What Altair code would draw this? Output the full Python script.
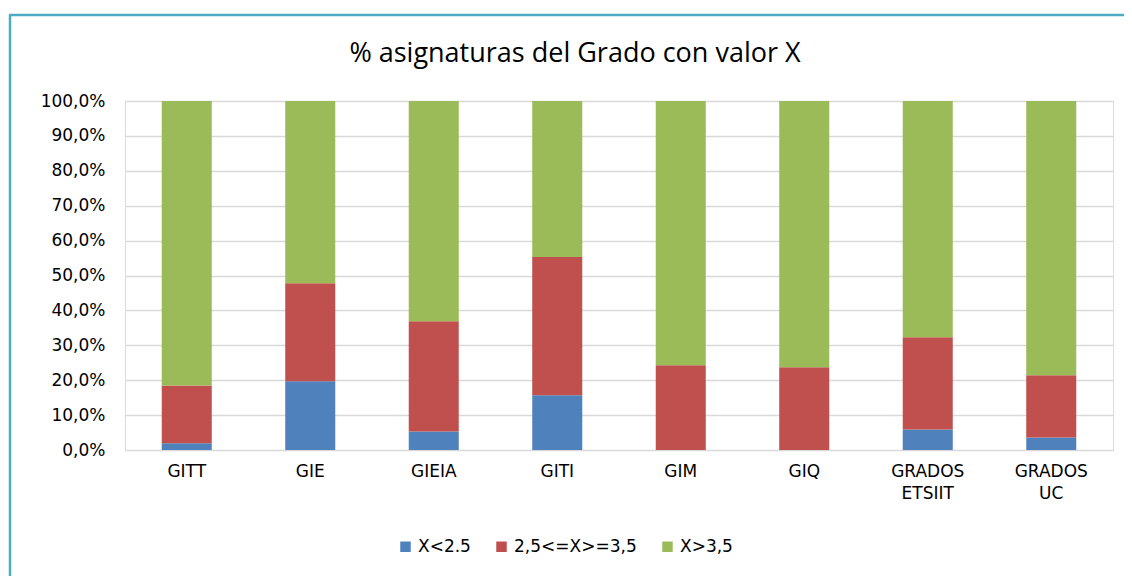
import altair as alt
import pandas as pd

grados = ["GITT", "GIE", "GIEIA", "GITI", "GIM", "GIQ", "GRADOS ETSIIT", "GRADOS UC"]
series = ["X<2.5", "2,5<=X>=3,5", "X>3,5"]
colores = ["#4F81BD", "#C0504D", "#9BBB59"]

bajo = [1.9, 19.7, 5.3, 15.7, 0.0, 0.0, 5.9, 3.6]
medio = [16.6, 28.1, 31.6, 39.6, 24.3, 23.7, 26.4, 17.8]
alto = [round(100 - b - m, 1) for b, m in zip(bajo, medio)]

rows = []
for i, g in enumerate(grados):
    for k, (s, vals) in enumerate(zip(series, [bajo, medio, alto])):
        rows.append({"grado": g, "serie": s, "valor": vals[i] / 100.0, "orden": k})
df = pd.DataFrame(rows)

FONT = "DejaVu Sans"
W, H = 988, 349
PL, PT = 117, 93
PR = 1116 - PL - W
PB = 568 - PT - H

bars = alt.Chart(df).mark_bar().encode(
    x=alt.X("grado:N", sort=grados, title=None,
            scale=alt.Scale(paddingInner=0.595, paddingOuter=0.2975),
            axis=alt.Axis(labelAngle=0, labelExpr="split(datum.label, ' ')",
                          labelLineHeight=22, labelPadding=13, labelFontSize=17,
                          labelFont=FONT, labelColor="#000000",
                          domain=False, ticks=False, grid=False)),
    y=alt.Y("valor:Q", stack="zero", title=None,
            scale=alt.Scale(domain=[0, 1], nice=False),
            axis=alt.Axis(values=[i / 10 for i in range(11)],
                          labelExpr="replace(format(datum.value, '.1%'), '.', ',')",
                          labelFontSize=17, labelFont=FONT, labelColor="#000000",
                          labelPadding=20, domain=False, ticks=False,
                          gridColor="#D9D9D9", gridWidth=1.5)),
    color=alt.Color("serie:N", sort=series, title=None,
                    scale=alt.Scale(domain=series, range=colores),
                    legend=alt.Legend(orient="none", direction="horizontal",
                                      legendX=272, legendY=437,
                                      symbolType="square", symbolSize=110,
                                      symbolStrokeWidth=0, labelFontSize=17,
                                      labelFont=FONT, labelColor="#000000",
                                      columnPadding=22, labelOffset=4)),
    order=alt.Order("orden:Q", sort="ascending"),
)

marco = alt.Data(values=[{"a": 1}])
borde_v = alt.Chart(marco).mark_rule(color="#4BACC6", strokeWidth=2.5).encode(
    x=alt.value(-115), y=alt.value(-86), y2=alt.value(500))
borde_h = alt.Chart(marco).mark_rule(color="#4BACC6", strokeWidth=2.5).encode(
    x=alt.value(-116), x2=alt.value(1020), y=alt.value(-86))

chart = alt.layer(bars, borde_v, borde_h).properties(
    width=W, height=H,
    title=alt.TitleParams("% asignaturas del Grado con valor X", font="Open Sans",
                          fontSize=27, fontWeight="normal", color="#000000",
                          anchor="middle", dx=-44, dy=86, offset=32),
    autosize=alt.AutoSizeParams(type="none"),
    padding={"left": PL, "top": PT, "right": PR, "bottom": PB},
).configure_view(stroke=None).configure(background="white")

chart.save("out.html", embed_options={"renderer": "svg", "actions": False})
